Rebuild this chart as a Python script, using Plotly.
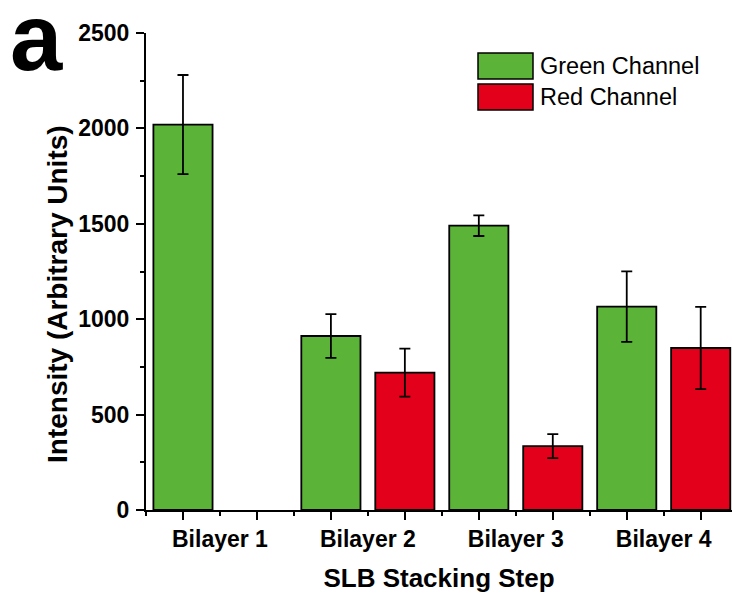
import plotly.graph_objects as go

categories = ["Bilayer 1", "Bilayer 2", "Bilayer 3", "Bilayer 4"]
green_vals = [2020, 912, 1490, 1066]
green_err = [260, 115, 54, 185]
red_vals = [None, 720, 335, 849]
red_err = [None, 126, 63, 216]
y_ticks = [0, 500, 1000, 1500, 2000, 2500]

GREEN = "#5bb337"
RED = "#e3001b"
FONT = "Liberation Sans"

# slot positions: green at even, red at odd
gx = [2 * i for i in range(len(categories))]
rx = [2 * i + 1 for i in range(len(categories))]

fig = go.Figure()
fig.add_trace(go.Bar(
    x=gx, y=green_vals, width=0.8, name="Green Channel",
    marker=dict(color=GREEN, line=dict(color="black", width=1.8)),
    error_y=dict(type="data", array=green_err, color="black", thickness=1.8, width=5.5),
    showlegend=False,
))
fig.add_trace(go.Bar(
    x=rx, y=red_vals, width=0.8, name="Red Channel",
    marker=dict(color=RED, line=dict(color="black", width=1.8)),
    error_y=dict(type="data", array=red_err, color="black", thickness=1.8, width=5.5),
    showlegend=False,
))

tickvals = [-0.5] + [i + 0.5 for i in range(7)]
ticktext = [""] + [categories[i // 2] if i % 2 == 0 else "" for i in range(7)]

fig.update_layout(
    width=732, height=597,
    margin=dict(l=146, r=0, t=33, b=87),
    plot_bgcolor="white", paper_bgcolor="white",
    barmode="overlay",
    font=dict(family=FONT, color="black"),
    xaxis=dict(
        range=[-0.5, -0.5 + 586 / 73.96],
        automargin=False,
        showgrid=False, zeroline=False,
        showline=True, linecolor="black", linewidth=2,
        tickmode="array", tickvals=tickvals, ticktext=ticktext,
        ticks="outside", ticklen=4, tickwidth=1.8, tickcolor="black",
        tickfont=dict(family=FONT, size=23, weight="bold"),
        ticklabelstandoff=3,
        minor=dict(tickmode="array", tickvals=list(range(8)), ticks="outside",
                   ticklen=8, tickwidth=1.8, tickcolor="black"),
        title=dict(text="SLB Stacking Step", font=dict(family=FONT, size=26, weight="bold"), standoff=18),
    ),
    yaxis=dict(
        range=[0, 2500],
        automargin=False,
        showgrid=False, zeroline=False,
        showline=True, linecolor="black", linewidth=2,
        tickmode="array", tickvals=y_ticks,
        ticks="outside", ticklen=8, tickwidth=1.8, tickcolor="black",
        tickfont=dict(family=FONT, size=23, weight="bold"),
        minor=dict(tickmode="linear", tick0=0, dtick=250, ticks="outside",
                   ticklen=4, tickwidth=1.8, tickcolor="black"),
        ticklabelstandoff=2,
    ),
)

# y-axis title
fig.add_annotation(
    text="Intensity (Arbitrary Units)", xref="paper", yref="paper",
    x=-(146 - 57) / 586, y=(510 - 294) / 477, textangle=-90,
    showarrow=False, font=dict(family=FONT, size=28, weight="bold"),
    xanchor="center", yanchor="middle",
)

# panel label
fig.add_annotation(
    text="a", xref="paper", yref="paper",
    x=-(146 - 36) / 586, y=(510 - 38) / 477,
    showarrow=False, font=dict(family=FONT, size=94, weight="bold"),
    xanchor="center", yanchor="middle",
)

# manual legend
def px_x(p):
    return (p - 146) / 586

def px_y(p):
    return (510 - p) / 477

legend_items = [("Green Channel", GREEN, 53, 79), ("Red Channel", RED, 84, 110)]
for label, col, y0, y1 in legend_items:
    fig.add_shape(type="rect", xref="paper", yref="paper",
                  x0=px_x(478), x1=px_x(533), y0=px_y(y1), y1=px_y(y0),
                  fillcolor=col, line=dict(color="black", width=1.5))
    fig.add_annotation(text=label, xref="paper", yref="paper",
                       x=px_x(538), y=px_y((y0 + y1) / 2), xanchor="left", yanchor="middle",
                       showarrow=False, font=dict(family=FONT, size=23.5, color="black"))

fig.write_html("out.html", config={"displayModeBar": False},
               post_script="document.body.style.margin='0';document.body.style.overflow='hidden';")
